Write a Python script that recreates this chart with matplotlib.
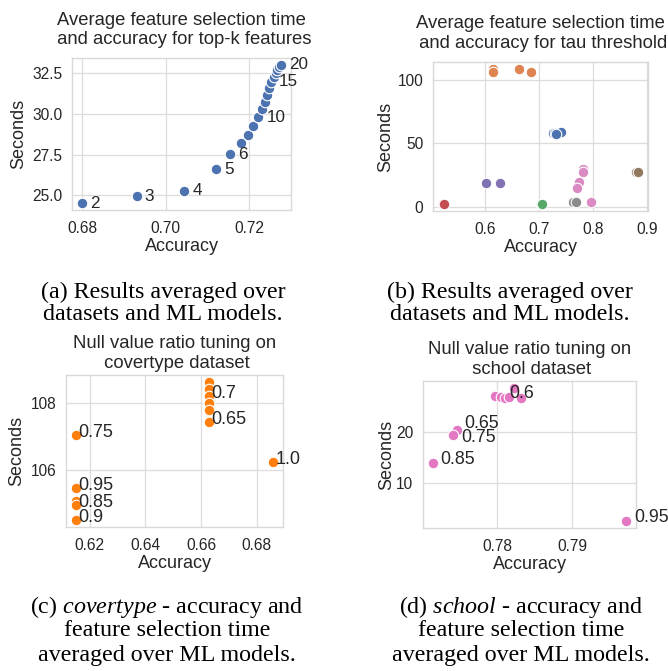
import matplotlib
matplotlib.use('Agg')
import matplotlib.pyplot as plt
import seaborn as sns

# --- (a) top-k features, averaged over datasets and models ---
topk_k = list(range(2, 21))
topk_acc = [0.6800, 0.6931, 0.7045, 0.7120, 0.7155, 0.7180, 0.7198, 0.7210, 0.7222, 0.7230,
            0.7237, 0.7243, 0.7248, 0.7252, 0.7258, 0.7263, 0.7267, 0.7271, 0.7276]
topk_sec = [24.53, 24.94, 25.29, 26.62, 27.54, 28.21, 28.70, 29.24, 29.80, 30.28,
            30.74, 31.18, 31.60, 31.99, 32.28, 32.52, 32.72, 32.88, 33.01]
topk_shown = [2, 3, 4, 5, 6, 10, 15, 20]

# --- (b) tau threshold, one group per dataset ---
tau_names = ['blue', 'covertype', 'green', 'red', 'purple', 'brown', 'school', 'gray']
tau_acc = [[0.7250, 0.7288, 0.7393, 0.7318],
           [0.6141, 0.6141, 0.6619, 0.6855],
           [0.7030, 0.7045],
           [0.5215, 0.5245],
           [0.6012, 0.6279],
           [0.8786, 0.8830],
           [0.7815, 0.7805, 0.7734, 0.7703, 0.7963],
           [0.7617, 0.7678]]
tau_sec = [[57.9, 58.4, 59.2, 57.1],
           [108.8, 106.2, 108.8, 106.6],
           [1.9, 1.8],
           [2.1, 2.1],
           [18.4, 18.4],
           [27.1, 27.1],
           [29.3, 27.1, 19.7, 14.5, 3.2],
           [3.2, 3.2]]

# --- (c) null value ratio on covertype ---
cov_acc = [0.6630, 0.6630, 0.6630, 0.6630, 0.6630, 0.6630,
           0.6151, 0.6151, 0.6151, 0.6151, 0.6151, 0.6859]
cov_sec = [108.65, 108.45, 108.22, 108.02, 107.80, 107.45,
           107.04, 105.45, 105.06, 104.93, 104.48, 106.22]
cov_lab = ['', '', '0.7', '', '', '0.65', '0.75', '0.95', '', '0.85', '0.9', '1.0']

# --- (d) null value ratio on school ---
sch_acc = [0.7797, 0.7805, 0.7810, 0.7815, 0.7822, 0.7831, 0.7745, 0.7740, 0.7713, 0.7973]
sch_sec = [27.0, 26.9, 26.75, 26.9, 28.7, 26.75, 20.5, 19.35, 14.0, 2.5]
sch_lab = ['', '0.6', '', '', '', '', '0.65', '0.75', '0.85', '0.95']

sns.set_theme(style='whitegrid')
plt.rcParams['font.family'] = ['Liberation Sans', 'DejaVu Sans']
plt.rcParams['mathtext.fontset'] = 'custom'
plt.rcParams['mathtext.rm'] = 'Liberation Serif'
plt.rcParams['mathtext.it'] = 'Liberation Serif:italic'

W, H = 668, 671
fig = plt.figure(figsize=(W / 100, H / 100), dpi=100)

def make_ax(l, t, r, b):
    ax = fig.add_axes([l / W, 1 - b / H, (r - l) / W, (b - t) / H])
    for s in ax.spines.values():
        s.set_color('#d9d9d9')
        s.set_linewidth(1.0)
    ax.grid(color='#dcdcdc', linewidth=0.9)
    ax.tick_params(axis='both', length=0, labelsize=11.2, colors='#262626')
    ax.tick_params(axis='x', pad=8)
    ax.tick_params(axis='y', pad=7)
    return ax

def decorate(ax, title, title_pad, ylab_pad):
    ax.set_title(title, fontsize=13.3, color='#262626', pad=title_pad, linespacing=1.2)
    ax.set_xlabel('Accuracy', fontsize=13, color='#262626', labelpad=1.5)
    ax.set_ylabel('Seconds', fontsize=13, color='#262626', labelpad=ylab_pad)

pt = dict(s=58, edgecolors='white', linewidths=0.8, zorder=3)
deep = sns.color_palette('deep')

# (a)
ax = make_ax(72, 58, 291, 210)
ax.scatter(topk_acc, topk_sec, color=deep[0], **pt)
for k, x, y in zip(topk_k, topk_acc, topk_sec):
    if k in topk_shown:
        ax.annotate(str(k), (x, y), xytext=(8, 0), textcoords='offset pixels',
                    va='center', ha='left', fontsize=12.3, color='#262626')
ax.set_xticks([0.68, 0.70, 0.72])
ax.set_xticklabels(['0.68', '0.70', '0.72'])
ax.set_yticks([25.0, 27.5, 30.0, 32.5])
ax.set_yticklabels(['25.0', '27.5', '30.0', '32.5'])
decorate(ax, 'Average feature selection time\n and accuracy for top-k features', 10.0, 3.5)

# (b)
ax = make_ax(433, 62, 648, 211)
for i, (xs, ys) in enumerate(zip(tau_acc, tau_sec)):
    ax.scatter(xs, ys, color=deep[i if i < 7 else 7], **pt)
ax.set_xticks([0.6, 0.7, 0.8, 0.9])
ax.set_yticks([0, 50, 100])
decorate(ax, 'Average feature selection time\n and accuracy for tau threshold', 10.3, 2.2)

# (c)
ax = make_ax(66, 375, 283, 527)
ax.scatter(cov_acc, cov_sec, color='#ff7f0e', **pt)
for lab, x, y in zip(cov_lab, cov_acc, cov_sec):
    if lab:
        ax.annotate(lab, (x, y), xytext=(2, -2), textcoords='offset pixels',
                    va='baseline', ha='left', fontsize=13, color='#262626', zorder=4)
ax.set_xticks([0.62, 0.64, 0.66, 0.68])
ax.set_yticks([106, 108])
decorate(ax, 'Null value ratio tuning on\n covertype dataset', 5.0, 3.5)

# (d)
ax = make_ax(423, 381, 636, 528)
ax.scatter(sch_acc, sch_sec, color='#e377c2', **pt)
sch_dy = {'0.6': -1, '0.65': 2, '0.75': -7, '0.85': -1, '0.95': -1}
for lab, x, y in zip(sch_lab, sch_acc, sch_sec):
    if lab:
        ax.annotate(lab, (x, y), xytext=(8, sch_dy[lab]), textcoords='offset pixels',
                    va='baseline', ha='left', fontsize=12.8, color='#262626', zorder=4)
ax.set_xticks([0.78, 0.79])
ax.set_yticks([10, 20])
decorate(ax, 'Null value ratio tuning on\n school dataset', 5.0, 0.8)

# sub-figure captions
captions = [
    (163, [292, 314], ['(a) Results averaged over', 'datasets and ML models.']),
    (510, [292, 314], ['(b) Results averaged over', 'datasets and ML models.']),
    (167, [607, 631, 655], [r'(c) $\mathit{covertype}$ - accuracy and', 'feature selection time',
                            'averaged over ML models.']),
    (521, [607, 631, 655], [r'(d) $\mathit{school}$ - accuracy and', 'feature selection time',
                            'averaged over ML models.']),
]
for cx, ys, lines in captions:
    for y, line in zip(ys, lines):
        fig.text(cx / W, 1 - y / H, line, ha='center', va='center',
                 fontsize=17.3, family='Liberation Serif', color='black')

fig.savefig('out.png', dpi=100)
